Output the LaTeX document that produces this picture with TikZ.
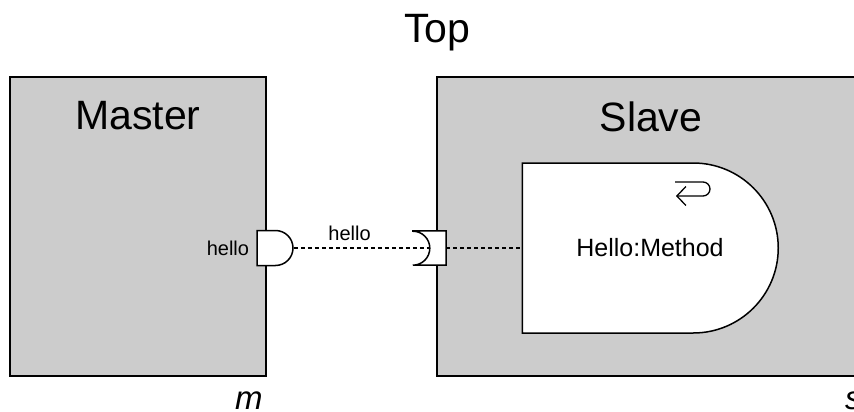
\documentclass[tikz,border=0pt]{standalone}
\usepackage{fontspec}
\setmainfont{Liberation Sans}
\usetikzlibrary{arrows.meta,positioning,shapes.misc,calc}
\definecolor{boxgray}{HTML}{CCCCCC}

\begin{document}
\begin{tikzpicture}[
  x=1pt, y=-1pt,
  block/.style={rectangle, draw=black, line width=1.5pt, fill=boxgray, inner sep=0pt},
  blocktitle/.style={inner sep=0pt, font=\fontsize{41}{41}\selectfont},
  methodbox/.style={rounded rectangle, rounded rectangle west arc=none, draw=black, line width=1.5pt, fill=white, inner sep=0pt, minimum width=256pt, minimum height=170pt, font=\fontsize{25}{25}\selectfont},
  provided/.style={rounded rectangle, rounded rectangle west arc=none, draw=black, line width=1.5pt, fill=white, inner sep=0pt, minimum width=36pt, minimum height=35pt},
  required/.style={rectangle, inner sep=0pt, minimum width=33pt, minimum height=34pt},
  portline/.style={draw=black, line width=1.5pt, fill=white},
  portname/.style={inner sep=0pt, font=\fontsize{20}{20}\selectfont},
  instname/.style={inner sep=0pt, font=\fontsize{33}{33}\selectfont\itshape},
  link/.style={dash pattern=on 4pt off 3pt, line width=1.5pt}
]
  \clip (0,0) rectangle (854,412);

  % Blocks
  \node[block, minimum width=256pt, minimum height=299pt] (master) at (138,226.5) {};
  \node[block, minimum width=428pt, minimum height=299pt] (slave) at (651,226.5) {};
  \node[blocktitle, anchor=north, below=25pt of master.north] (mastertitle) {Master};
  \node[blocktitle, anchor=north, below=25pt of slave.north] (slavetitle) {Slave};
  \node[blocktitle, anchor=north] (toptitle) at ($(master.north west)!0.5!(slave.north east) + (0,-62)$) {Top};
  \node[instname, anchor=north east] (mastername) at ($(master.south east) + (-4,15)$) {m};
  \node[instname, anchor=north east] (slavename) at ($(slave.south east) + (-4,15)$) {s};

  % Method
  \node[methodbox] (method) at (650,248) {Hello:Method};
  \begin{scope}[shift={(method.center)}]
    \draw[line width=1.3pt, {Straight Barb[length=9pt,width=19pt]}-] (26,-52) -- (53,-52) arc[start angle=90, end angle=-90, radius=7] -- (25,-66);
  \end{scope}

  % Ports
  \node[provided] (mport) at (275,248) {};
  \node[portname, left=7pt of mport] (mportname) {hello};
  \node[required] (sport) at (429.5,248) {};
  \draw[portline] (sport.north west) -- (sport.north east) -- (sport.south east) -- (sport.south west)
    arc[start angle=90, end angle=-90, radius=17] -- cycle;
  \coordinate (socket) at ($(sport.west) + (17,0)$);

  % Links
  \draw[link] (mport.east) -- node[portname, above=7pt, pos=0.41] {hello} (socket);
  \draw[link] (sport.east) -- (method.west);
\end{tikzpicture}
\end{document}
